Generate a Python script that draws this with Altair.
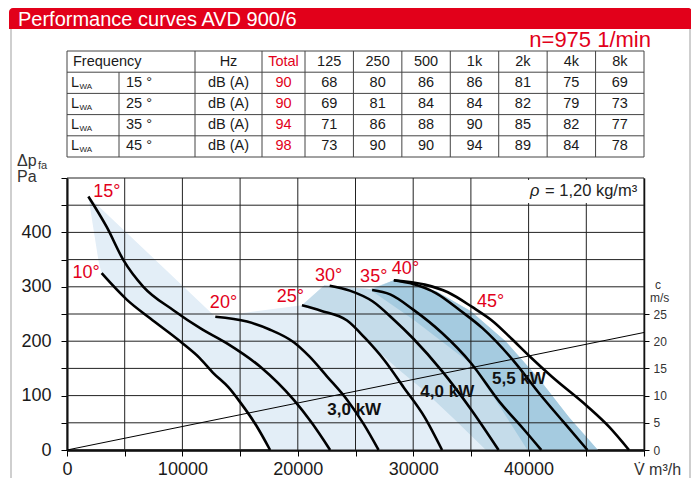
import altair as alt
import pandas as pd

# ---------------- data ----------------
TITLE = "Performance curves AVD 900/6"
SPEED = "n=975 1/min"
FREQ_BANDS = ["125", "250", "500", "1k", "2k", "4k", "8k"]
BLADE_ROWS = ["15 °", "25 °", "35 °", "45 °"]
TOTAL_DBA = [90, 90, 94, 98]
LWA_15 = [68, 80, 86, 86, 81, 75, 69]
LWA_25 = [69, 81, 84, 84, 82, 79, 73]
LWA_35 = [71, 86, 88, 90, 85, 82, 77]
LWA_45 = [73, 90, 90, 94, 89, 84, 78]

# fan curves: volume flow (m3/h) and pressure (Pa)
V10 = [3000, 5200, 7200, 9900, 11500, 12700, 14000, 15000, 16400, 17600]
P10 = [325, 276, 242, 198, 169, 141, 115, 88, 45, 0]
V15 = [1850, 3440, 4890, 6620, 9220, 11540, 13860, 16750, 19650, 21240, 22800]
P15 = [466, 410, 349, 300, 257, 224, 196, 153, 92, 49, 0]
V20 = [12850, 15600, 17500, 19650, 21000, 22540, 24280, 25700, 27000]
P20 = [245, 236, 222, 198, 172, 135, 92, 48, 0]
V25 = [20360, 22000, 24270, 25860, 27500, 29180, 31000, 32500]
P25 = [266, 256, 238, 205, 165, 115, 60, 0]
V30 = [22760, 24500, 26500, 28300, 30000, 32500, 35000, 37400]
P30 = [302, 293, 273, 240, 205, 145, 75, 0]
V35 = [26440, 28000, 30000, 32500, 35000, 37500, 39500, 41100]
P35 = [294, 286, 258, 215, 160, 88, 40, 0]
V40 = [28320, 30000, 32000, 34100, 36000, 38700, 41000, 43000, 45100]
P40 = [312, 305, 288, 256, 224, 164, 102, 52, 0]
V45 = [28320, 31000, 33000, 35100, 37000, 38500, 40200, 42000, 45100, 47000, 48700]
P45 = [312, 304, 290, 263, 235, 205, 170, 135, 80, 42, 0]
CURVES = [("10°", V10, P10), ("15°", V15, P15), ("20°", V20, P20), ("25°", V25, P25),
          ("30°", V30, P30), ("35°", V35, P35), ("40°", V40, P40), ("45°", V45, P45)]

# motor-power zones (polygon outlines)
ZONE_30_V = [1850, 12850, 20360, 22300, 26300, 28320, 46000, 17600, 16400, 15000, 14000,
             12700, 11500, 9900, 7200, 5200, 3000, 2750]
ZONE_30_P = [466, 245, 266, 303, 296, 312, 0, 0, 45, 88, 115, 141, 169, 198, 242, 276, 325, 345]
ZONE_40_V = [20360, 22300, 26300, 28320, 32000, 35000, 38000, 41000, 43500, 46000, 36300,
             33500, 30900, 28500, 25800, 24270, 22000]
ZONE_40_P = [266, 303, 296, 312, 292, 255, 200, 128, 60, 0, 0, 58, 110, 152, 204, 238, 256]
ZONE_55_V = [26300, 28320, 32000, 35000, 38000, 41000, 43500, 46000, 39900, 37500, 34970, 30060]
ZONE_55_P = [294, 312, 292, 255, 200, 128, 60, 0, 0, 80, 159, 239]

# labels
ANGLE_TXT = ["10°", "15°", "20°", "25°", "30°", "35°", "40°", "45°"]
ANGLE_V = [1650, 3445, 13560, 19350, 22670, 26580, 29330, 36700]
ANGLE_P = [325, 475, 270, 282, 320, 318, 333, 272]
KW_TXT = ["3,0 kW", "4,0 kW", "5,5 kW"]
KW_V = [24890, 32950, 39160]
KW_P = [74, 106, 131]

# velocity line (m/s)
VEL_V = [0, 50000]
VEL_C = [0, 21.6]
C_TICKS = [0, 5, 10, 15, 20, 25]
GRID_V = list(range(0, 50001, 5000))
GRID_P = list(range(0, 501, 50))

# ---------------- style / layout ----------------
FONT = "Liberation Sans, Arial, sans-serif"
RED = "#e2001a"
LIGHT, MED, DARK = "#e3eef7", "#c5dcea", "#a5cbe0"
W, H = 577, 272

xsc = alt.Scale(domain=[0, 50000], nice=False, zero=True)
ysc = alt.Scale(domain=[0, 500], nice=False, zero=True)
X_AX = alt.Axis(values=GRID_V, labelExpr="datum.value % 10000 == 0 && datum.value < 50000 ? datum.value : ''",
                grid=False, domainColor="#000", domainWidth=2.5, tickColor="#000", tickSize=6,
                labelFont=FONT, labelFontSize=18, labelColor="#1a1a1a", labelPadding=4, title=None,
                labelOverlap=False, labelFlush=False)
Y_AX = alt.Axis(values=GRID_P, labelExpr="datum.value % 100 == 0 && datum.value < 500 ? datum.value : ''",
                grid=False, domainColor="#000", domainWidth=2, tickColor="#000", tickSize=6,
                labelFont=FONT, labelFontSize=18, labelColor="#1a1a1a", labelPadding=10, title=None,
                labelOverlap=False)


def poly(vs, ps, color):
    df = pd.DataFrame({"V": vs, "P": ps, "i": range(len(vs))})
    df = pd.concat([df, df.iloc[[0]].assign(i=len(vs))])
    return alt.Chart(df).mark_line(fill=color, strokeOpacity=0, interpolate="linear").encode(
        x=alt.X("V:Q", scale=xsc, axis=X_AX), y=alt.Y("P:Q", scale=ysc, axis=Y_AX), order="i:Q")


light = poly(ZONE_30_V, ZONE_30_P, LIGHT)
medium = poly(ZONE_40_V, ZONE_40_P, MED)
dark = poly(ZONE_55_V, ZONE_55_P, DARK)

gridx = alt.Chart(pd.DataFrame({"V": GRID_V})).mark_rule(color="#222", strokeWidth=1).encode(
    x=alt.X("V:Q", scale=xsc, axis=X_AX))
gridy = alt.Chart(pd.DataFrame({"P": GRID_P})).mark_rule(color="#222", strokeWidth=1).encode(
    y=alt.Y("P:Q", scale=ysc, axis=Y_AX))

rows = []
for name, vs, ps in CURVES:
    for v, p in zip(vs, ps):
        rows.append({"angle": name, "V": v, "P": p})
curves = alt.Chart(pd.DataFrame(rows)).mark_line(color="#000", strokeWidth=2.6, interpolate="monotone").encode(
    x=alt.X("V:Q", scale=xsc, axis=X_AX), y=alt.Y("P:Q", scale=ysc, axis=Y_AX), detail="angle:N")

angle_lbl = alt.Chart(pd.DataFrame({"t": ANGLE_TXT, "V": ANGLE_V, "P": ANGLE_P})).mark_text(
    color=RED, font=FONT, fontSize=18).encode(
    x=alt.X("V:Q", scale=xsc, axis=X_AX), y=alt.Y("P:Q", scale=ysc, axis=Y_AX), text="t:N")
kw_lbl = alt.Chart(pd.DataFrame({"t": KW_TXT, "V": KW_V, "P": KW_P})).mark_text(
    color="#111", font=FONT, fontSize=17, fontWeight="bold").encode(
    x=alt.X("V:Q", scale=xsc, axis=X_AX), y=alt.Y("P:Q", scale=ysc, axis=Y_AX), text="t:N")

plot = alt.layer(light, medium, dark, gridx, gridy, curves, angle_lbl, kw_lbl)

C_AX = alt.Axis(orient="right", values=C_TICKS, grid=False, domainColor="#000", domainWidth=1.5,
                tickColor="#000", tickSize=5, labelFont=FONT, labelFontSize=12, labelColor="#333",
                labelPadding=4, title=None)
cline = alt.Chart(pd.DataFrame({"V": VEL_V, "c": VEL_C})).mark_line(color="#000", strokeWidth=1).encode(
    x=alt.X("V:Q", scale=xsc, axis=None),
    y=alt.Y("c:Q", scale=alt.Scale(domain=[0, 50], nice=False), axis=C_AX))


# ---------------- decorations (pixel layout) ----------------
def rects(items, **mk):
    df = pd.DataFrame(items)
    return alt.Chart(df).mark_rect(**mk).encode(
        x=alt.X("x:Q", scale=None, axis=None), x2="x2:Q",
        y=alt.Y("y:Q", scale=None, axis=None), y2="y2:Q")


def rules(items, **mk):
    df = pd.DataFrame(items)
    return alt.Chart(df).mark_rule(**mk).encode(
        x=alt.X("x:Q", scale=None, axis=None), x2="x2:Q",
        y=alt.Y("y:Q", scale=None, axis=None), y2="y2:Q")


def texts(items, **mk):
    df = pd.DataFrame(items)
    return alt.Chart(df).mark_text(**mk).encode(
        x=alt.X("x:Q", scale=None, axis=None), y=alt.Y("y:Q", scale=None, axis=None),
        text="t:N", color=alt.Color("c:N", scale=None, legend=None))


frame = rules([{"x": -56, "x2": -56, "y": -160, "y2": 310}, {"x": 623, "x2": 623, "y": -160, "y2": 310}],
              color="#cfcfcf", strokeWidth=2)
bar = rects([{"x": -58, "x2": 625, "y": -170, "y2": -149}], color=RED,
            cornerRadiusTopLeft=4, cornerRadiusTopRight=4)
title = texts([{"x": -49, "y": -158.5, "t": TITLE, "c": "#ffffff"}], font=FONT, fontSize=20, align="left",
              baseline="middle")
speed = texts([{"x": 584, "y": -138, "t": SPEED, "c": RED}], font=FONT, fontSize=22, align="right",
              baseline="middle")

# table
num_w = (W - 238) / 7
edges = [0, 52, 128, 195, 238] + [238 + num_w * (k + 1) for k in range(7)]
TOP, RH = -127, 21.2
hlines = [{"x": 0, "x2": W, "y": TOP + RH * r, "y2": TOP + RH * r} for r in range(6)]
vlines = [{"x": e, "x2": e, "y": TOP + (RH if j == 1 else 0), "y2": TOP + 5 * RH} for j, e in enumerate(edges)]
tbl_lines = rules(hlines + vlines, color="#444", strokeWidth=1)

cells_c, cells_l, subs = [], [], []
rc = lambda r: TOP + RH * (r + 0.5)
mid = lambda j: (edges[j] + edges[j + 1]) / 2
TXT = "#1a1a1a"
cells_l.append({"x": 6, "y": rc(0), "t": "Frequency", "c": TXT})
cells_c.append({"x": mid(2), "y": rc(0), "t": "Hz", "c": TXT})
cells_c.append({"x": mid(3), "y": rc(0), "t": "Total", "c": RED})
for k, b in enumerate(FREQ_BANDS):
    cells_c.append({"x": mid(4 + k), "y": rc(0), "t": b, "c": TXT})
for r, (ang, tot, vals) in enumerate(zip(BLADE_ROWS, TOTAL_DBA, [LWA_15, LWA_25, LWA_35, LWA_45])):
    cells_l.append({"x": 4, "y": rc(r + 1), "t": "L", "c": TXT})
    subs.append({"x": 12.5, "y": rc(r + 1) + 4, "t": "WA", "c": TXT})
    cells_l.append({"x": 59, "y": rc(r + 1), "t": ang, "c": TXT})
    cells_c.append({"x": mid(2), "y": rc(r + 1), "t": "dB (A)", "c": TXT})
    cells_c.append({"x": mid(3), "y": rc(r + 1), "t": str(tot), "c": RED})
    for k, v in enumerate(vals):
        cells_c.append({"x": mid(4 + k), "y": rc(r + 1), "t": str(v), "c": TXT})
tbl_c = texts(cells_c, font=FONT, fontSize=14.5, align="center", baseline="middle")
tbl_l = texts(cells_l, font=FONT, fontSize=14.5, align="left", baseline="middle")
tbl_s = texts(subs, font=FONT, fontSize=8, align="left", baseline="middle")

axis_txt = texts([{"x": -50, "y": -17, "t": "Δp", "c": "#333"}, {"x": -50, "y": -1, "t": "Pa", "c": "#333"},
                  {"x": 567, "y": 292, "t": "V̇ m³/h", "c": "#333"}],
                 font=FONT, fontSize=16, align="left", baseline="middle")
axis_sub = texts([{"x": -29, "y": -12, "t": "fa", "c": "#333"}], font=FONT, fontSize=11, align="left",
                 baseline="middle")
c_txt = texts([{"x": 588, "y": 107, "t": "c", "c": "#333"}, {"x": 583, "y": 120, "t": "m/s", "c": "#333"}],
              font=FONT, fontSize=12, align="left", baseline="middle")

decor = alt.layer(frame, bar, title, speed, tbl_lines, tbl_c, tbl_l, tbl_s, axis_txt, axis_sub, c_txt)

rho_box = rects([{"x": 455, "x2": 576, "y": 2, "y2": 25}], color="#ffffff")
rho_sym = texts([{"x": 463, "y": 13, "t": "ρ", "c": "#222"}], font=FONT, fontSize=16.5, fontStyle="italic",
                align="left", baseline="middle")
rho_txt = texts([{"x": 478, "y": 13, "t": "= 1,20 kg/m³", "c": "#222"}], font=FONT, fontSize=16.5,
                align="left", baseline="middle")
overlay = alt.layer(rho_box, rho_sym, rho_txt)

chart = alt.layer(decor, plot, cline, overlay).resolve_scale(x="independent", y="independent").properties(
    width=W, height=H,
    padding={"left": 59, "top": 170, "right": 47, "bottom": 28},
    autosize=alt.AutoSizeParams(type="none"),
).configure_view(stroke=None)

chart.save("out.html", embed_options={"renderer": "svg", "actions": False})
